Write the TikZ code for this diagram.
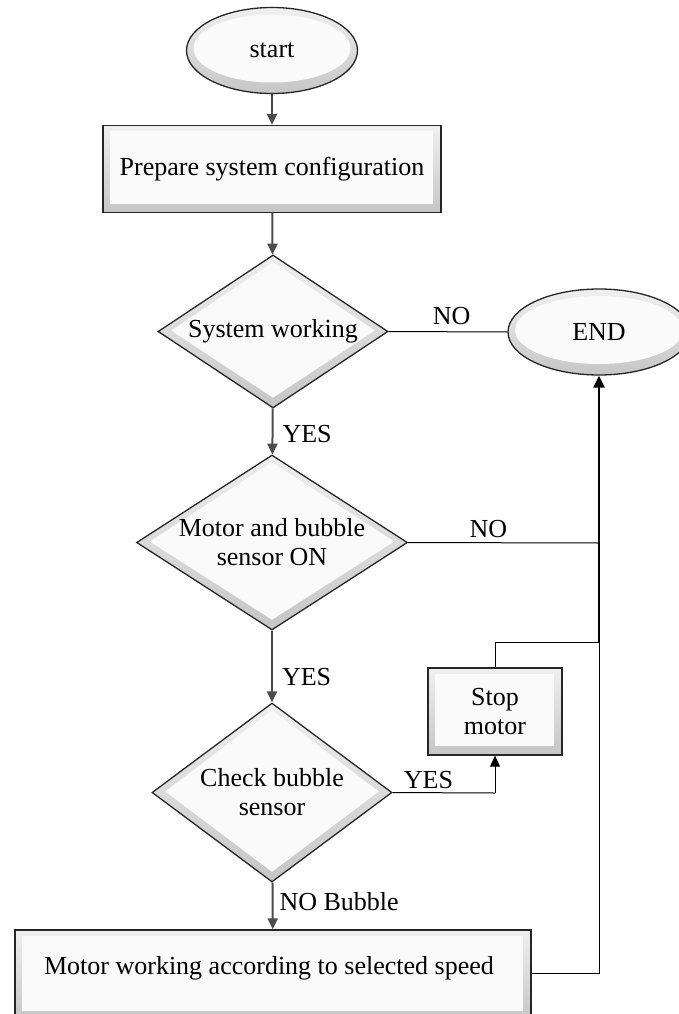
\documentclass[tikz,border=0pt]{standalone}
\usepackage{fontspec}
\setmainfont{Liberation Serif}
\usetikzlibrary{shapes.geometric,arrows.meta}
\tikzset{
  basefont/.style={font=\fontsize{26}{29}\selectfont},
  shell/.style={draw=black!85, line width=1.3pt, top color=gray!12, bottom color=gray!45, inner sep=0pt, align=center, basefont},
  boxnode/.style 2 args={shell, rectangle, minimum width=#1, minimum height=#2,
    path picture={\fill[white!96!gray] ([shift={(7pt,-6pt)}]path picture bounding box.north west) rectangle ([shift={(-8pt,9pt)}]path picture bounding box.south east);}},
  dianode/.style 2 args={shell, diamond, minimum width=#1, minimum height=#2,
    path picture={\fill[white!96!gray] ([yshift=-7pt]path picture bounding box.north) -- ([xshift=-13pt,yshift=1pt]path picture bounding box.east) -- ([yshift=10pt]path picture bounding box.south) -- ([xshift=13pt,yshift=1pt]path picture bounding box.west) -- cycle;}},
  ellnode/.style 2 args={shell, ellipse, minimum width=#1, minimum height=#2,
    path picture={\fill[white!96!gray] ([yshift=2pt]path picture bounding box.center) ellipse [x radius=#1/2-7pt, y radius=#2/2-9pt];}},
  arr/.style={draw=black!70, line width=2pt, -{Triangle[length=11pt,width=10pt]}},
  thinline/.style={draw=black, line width=1pt},
  thickarr/.style={draw=black, line width=2.2pt, -{Triangle[length=12pt,width=11pt]}},
  lbl/.style={basefont, inner sep=0pt, anchor=west},
}
\begin{document}
\begin{tikzpicture}[x=1pt,y=-1pt]
\useasboundingbox (0,0) rectangle (679,1014);
\clip (0,0) rectangle (679,1014);
\node[ellnode={171pt}{86pt}] (start) at (272,50.5) {start};
\node[boxnode={338pt}{87pt}] (prep) at (272,169) {Prepare system configuration};
\node[dianode={230pt}{153pt}, shape aspect=1.5] (d1) at (273,331.5) {System working};
\node[ellnode={182pt}{86pt}] (endn) at (599,332) {END};
\node[dianode={271pt}{175pt}, shape aspect=1.55] (d2) at (272,542.5) {Motor and bubble\\sensor ON};
\node[boxnode={134pt}{87pt}] (stop) at (495,711.5) {Stop\\motor};
\node[dianode={240pt}{179pt}, shape aspect=1.34] (d3) at (272,792.5) {Check bubble\\sensor};
\node[boxnode={516pt}{90pt}] (motor) at (273,975) {\hspace*{-8pt}Motor working according to selected speed\\[-9pt]\mbox{}};

\coordinate (j1) at (599,543);
\coordinate (j2) at (599,642);
\coordinate (j3) at (599,973);
\coordinate (s1) at (495,642);
\coordinate (y3) at (495,793);

\draw[arr] (start) -- (prep);
\draw[arr] (prep) -- (d1);
\draw[thinline] (d1.east) -- node[basefont, above=7pt, inner sep=0pt, pos=0.53] (lno1) {NO} (endn.west);
\draw[arr] (d1) -- node[lbl, right=9pt, pos=0.55] (lyes1) {YES} (d2);
\draw[thinline] (d2.east) -- node[basefont, above=4pt, inner sep=0pt, pos=0.42] (lno2) {NO} (j1);
\draw[arr] (d2) -- node[lbl, right=9pt, pos=0.65] (lyes2) {YES} (d3);
\draw[thinline] (d3.east) -- node[basefont, above=3pt, inner sep=0pt, pos=0.35] (lyes3) {YES} (y3);
\draw[thinline, -{Triangle[length=11pt,width=10pt]}] (y3) -- (stop.south);
\draw[arr] (d3) -- node[lbl, right=6pt, pos=0.4] (lnob) {NO Bubble} (motor);
\draw[thinline] (motor.east |- j3) -- (j3) -- (j2);
\draw[thinline] (stop.north) -- (s1) -- (j2);
\draw[thickarr] (j2) -- (endn.south);
\end{tikzpicture}
\end{document}
